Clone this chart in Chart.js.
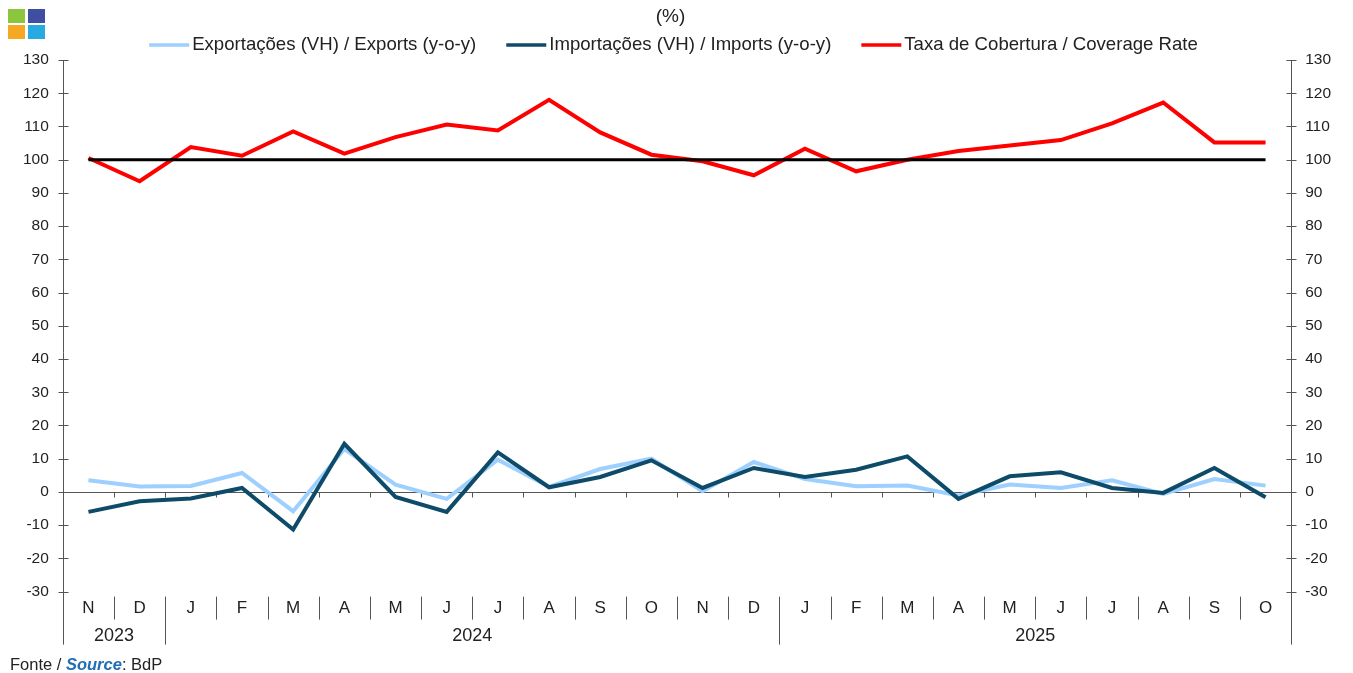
<!DOCTYPE html>
<html lang="en">
<head>
<meta charset="UTF-8">
<title>Exportações, Importações e Taxa de Cobertura</title>
<script src="https://cdn.jsdelivr.net/npm/chart.js"></script>
<style>
  body { margin: 0; background: #fff; font-family: "Liberation Sans", Arial, sans-serif; }
  #wrap { position: relative; width: 1353px; height: 673px; }
  .sq { position: absolute; width: 17px; height: 14px; }
  #source { position: absolute; left: 10px; top: 655px; font-size: 16.5px; color: #222; }
  #source b { color: #1f6fb8; font-style: italic; }
</style>
</head>
<body>
<div id="wrap">
  <canvas id="chart" width="1353" height="673"></canvas>
  <div class="sq" style="left:8px;top:9px;background:#8cc63f"></div>
  <div class="sq" style="left:28px;top:9px;background:#3f4ea0"></div>
  <div class="sq" style="left:8px;top:25px;background:#f7a823"></div>
  <div class="sq" style="left:28px;top:25px;background:#27aae1"></div>
  <div id="source">Fonte / <b>Source</b>: BdP</div>
</div>
<script>
var months = ['N','D','J','F','M','A','M','J','J','A','S','O','N','D','J','F','M','A','M','J','J','A','S','O'];
var years = ['2023', '2024', '2025'];
var yearStart = [0, 2, 14];   // index of the first month of each year

var exportsYoY = [3.5, 1.6, 1.8, 5.7, -5.8, 12.9, 2.2, -2.1, 9.7, 1.5, 6.9, 10.0,
                  0.2, 9.0, 3.9, 1.7, 1.9, -1.1, 2.2, 1.2, 3.5, -0.6, 3.9, 1.9];
var importsYoY = [-6.0, -2.8, -2.0, 1.2, -11.3, 14.5, -1.5, -6.0, 11.9, 1.4, 4.5, 9.5,
                  1.2, 7.2, 4.5, 6.7, 10.7, -2.1, 4.7, 5.9, 1.2, -0.3, 7.2, -1.6];
var coverageRate = [100.5, 93.5, 103.8, 101.2, 108.5, 101.8, 106.8, 110.6, 108.8, 118.0, 108.2, 101.5,
                    99.5, 95.3, 103.3, 96.5, 100.0, 102.6, 104.3, 105.9, 110.9, 117.2, 105.2, 105.2];
var parity = [100, 100, 100, 100, 100, 100, 100, 100, 100, 100, 100, 100,
              100, 100, 100, 100, 100, 100, 100, 100, 100, 100, 100, 100];

var seriesNames = ['Exportações (VH) / Exports (y-o-y)', 'Importações (VH) / Imports (y-o-y)', 'Taxa de Cobertura / Coverage Rate'];
var unitLabel = '(%)';

var FONT = '"Liberation Sans", Arial, sans-serif';
var INK = '#222';

// unit label and legend above the plot
var headerPlugin = {
  id: 'header',
  afterDraw: function(chart) {
    var ctx = chart.ctx;
    ctx.save();
    ctx.fillStyle = INK;
    ctx.textBaseline = 'middle';
    ctx.textAlign = 'center';
    ctx.font = '19px ' + FONT;
    ctx.fillText(unitLabel, chart.width / 2 - 6, 17);

    ctx.font = '18.6px ' + FONT;
    ctx.textAlign = 'left';
    var items = chart.data.datasets.slice(0, 3);
    var lineW = 40, gapText = 3, gapItem = 30;
    var widths = items.map(function(d) { return lineW + gapText + ctx.measureText(d.label).width; });
    var total = widths.reduce(function(s, w) { return s + w; }, 0) + gapItem * (items.length - 1);
    var x = chart.width / 2 - 3 - total / 2, y = 45;
    items.forEach(function(d, i) {
      ctx.strokeStyle = d.borderColor;
      ctx.lineWidth = 3.5;
      ctx.beginPath();
      ctx.moveTo(x, y); ctx.lineTo(x + lineW, y);
      ctx.stroke();
      ctx.fillText(d.label, x + lineW + gapText, y);
      x += widths[i] + gapItem;
    });
    ctx.restore();
  }
};

// zero line, category axis separators, year labels and the crossing ticks of both value axes
var framePlugin = {
  id: 'frame',
  beforeDatasetsDraw: function(chart) {
    var ctx = chart.ctx, x = chart.scales.x, a = chart.chartArea;
    var y0 = Math.round(chart.scales.y.getPixelForValue(0)) + 0.5;
    ctx.save();
    ctx.strokeStyle = '#555';
    ctx.lineWidth = 1;
    ctx.beginPath();
    ctx.moveTo(a.left, y0);
    ctx.lineTo(a.right, y0);
    for (var i = 1; i < months.length; i++) {
      var bx = Math.round((x.getPixelForValue(i - 1) + x.getPixelForValue(i)) / 2) + 0.5;
      ctx.moveTo(bx, y0);
      ctx.lineTo(bx, y0 + 5);
    }
    ctx.stroke();
    ctx.restore();
  },
  afterDraw: function(chart) {
    var ctx = chart.ctx, x = chart.scales.x, y = chart.scales.y, a = chart.chartArea;
    var axisBottom = a.bottom + 53;
    ctx.save();
    ctx.strokeStyle = '#555';
    ctx.lineWidth = 1;
    ctx.beginPath();
    var l = Math.round(a.left) + 0.5, r = Math.round(a.right) + 0.5;
    ctx.moveTo(l, a.top); ctx.lineTo(l, axisBottom);
    ctx.moveTo(r, a.top); ctx.lineTo(r, axisBottom);
    y.ticks.forEach(function(t) {
      var ty = Math.round(y.getPixelForValue(t.value)) + 0.5;
      ctx.moveTo(l - 5, ty); ctx.lineTo(l + 5, ty);
      ctx.moveTo(r - 5, ty); ctx.lineTo(r + 5, ty);
    });
    for (var i = 1; i < months.length; i++) {
      var bx = Math.round((x.getPixelForValue(i - 1) + x.getPixelForValue(i)) / 2) + 0.5;
      var isYear = yearStart.indexOf(i) >= 0;
      ctx.moveTo(bx, a.bottom + 5);
      ctx.lineTo(bx, isYear ? axisBottom : a.bottom + 28);
    }
    ctx.stroke();

    ctx.fillStyle = INK;
    ctx.font = '18px ' + FONT;
    ctx.textAlign = 'center';
    ctx.textBaseline = 'middle';
    var half = (x.getPixelForValue(1) - x.getPixelForValue(0)) / 2;
    years.forEach(function(label, k) {
      var first = yearStart[k];
      var last = k + 1 < yearStart.length ? yearStart[k + 1] - 1 : months.length - 1;
      var cx = (x.getPixelForValue(first) - half + x.getPixelForValue(last) + half) / 2;
      ctx.fillText(label, cx, a.bottom + 44);
    });
    ctx.restore();
  }
};

var valueTicks = { stepSize: 10, color: INK, font: { size: 15.5, family: FONT }, padding: 14 };

new Chart(document.getElementById('chart'), {
  type: 'line',
  data: {
    labels: months,
    datasets: [
      { label: seriesNames[0], data: exportsYoY, borderColor: '#9dcfff', backgroundColor: '#9dcfff', borderWidth: 4, order: 3 },
      { label: seriesNames[1], data: importsYoY, borderColor: '#0e4b69', backgroundColor: '#0e4b69', borderWidth: 4, order: 0 },
      { label: seriesNames[2], data: coverageRate, borderColor: '#ff0000', backgroundColor: '#ff0000', borderWidth: 4, order: 2 },
      { label: '100', data: parity, borderColor: '#000', borderWidth: 3, order: 1 }
    ]
  },
  options: {
    responsive: false,
    animation: false,
    layout: { padding: { left: 9, right: 8, top: 60, bottom: 47 } },
    elements: { point: { radius: 0 }, line: { tension: 0, borderCapStyle: 'butt', borderJoinStyle: 'miter' } },
    plugins: {
      legend: { display: false },
      title: { display: false },
      tooltip: { enabled: false }
    },
    scales: {
      x: {
        offset: true,
        grid: { display: false, drawTicks: false },
        border: { display: false },
        ticks: { color: INK, font: { size: 17, family: FONT }, padding: 7, maxRotation: 0, autoSkip: false }
      },
      y: {
        position: 'left', min: -30, max: 130,
        grid: { display: false, drawTicks: false },
        border: { display: false },
        ticks: valueTicks
      },
      y1: {
        position: 'right', min: -30, max: 130,
        grid: { display: false, drawTicks: false },
        border: { display: false },
        ticks: valueTicks
      }
    }
  },
  plugins: [framePlugin, headerPlugin]
});
</script>
</body>
</html>
